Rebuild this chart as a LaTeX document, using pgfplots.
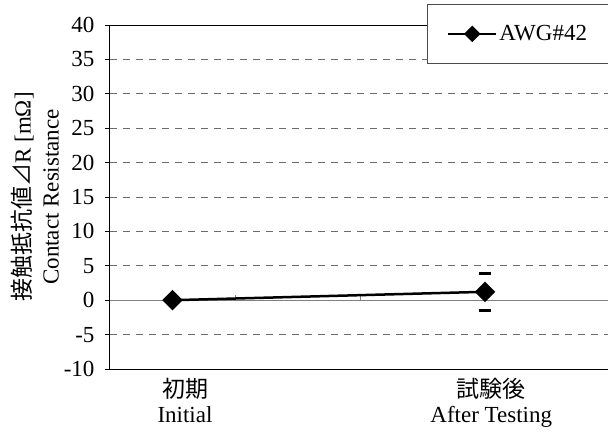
\documentclass[border=0pt]{standalone}
\usepackage{pgfplots}
\pgfplotsset{compat=1.18}
\usepackage{fontspec}
\setmainfont{Liberation Serif}
\newfontfamily\cjk{Noto Sans CJK JP}
\newcommand\chartfont{\fontsize{23}{25}\selectfont}
\begin{document}
\begin{tikzpicture}[x=1pt,y=1pt]
\useasboundingbox (0,0) rectangle (608,434);
\begin{axis}[
  at={(110pt,65pt)}, anchor=south west,
  scale only axis, width=502pt, height=344pt,
  xmin=0, xmax=4.016, ymin=-10, ymax=40,
  axis line style={black, line width=1pt},
  font=\chartfont,
  /pgf/number format/assume math mode=true,
  xtick={0.6,3.05},
  xticklabels={{{\cjk 初期}\\Initial},{{\cjk 試験後}\\After Testing}},
  xticklabel style={align=center, font=\chartfont, yshift=-1pt},
  x tick style={draw=none},
  xtick pos=lower,
  ytick pos=left,
  ytick={-5,5,10,15,20,25,30,35},
  extra y ticks={-10,0,40},
  extra y tick style={grid=none},
  ymajorgrids,
  major grid style={gray!85!black, line width=0.8pt, dash pattern=on 7pt off 6pt},
  y tick style={black, line width=0.8pt},
  tick align=outside, major tick length=5pt,
  yticklabel style={font=\chartfont, xshift=-7pt},
  every axis y label/.style={at={(axis description cs:0,0.5)}, xshift=-75pt, rotate=90, anchor=center, align=center, font=\chartfont},
  ylabel={{\cjk 接触抵抗値⊿}R [mΩ]\\[3pt]Contact Resistance},
  legend style={at={(axis description cs:1,1)}, anchor=north east, xshift=-3pt, yshift=21pt,
    draw=gray!60!black, line width=1pt, inner xsep=19.5pt, inner ysep=19pt, font=\chartfont},
  legend image code/.code={\draw[mark repeat=2,mark phase=2,#1,mark size=4.6pt] plot coordinates {(0pt,0pt)(24pt,0pt)(48pt,0pt)};},
]
\draw[gray, line width=0.8pt] (axis cs:0,0) -- (axis cs:4.016,0);
\draw[gray, line width=0.8pt] (axis cs:1,0) -- ++(0pt,5pt);
\draw[gray, line width=0.8pt] (axis cs:2,0) -- ++(0pt,5pt);
\draw[gray, line width=0.8pt] (axis cs:3,0) -- ++(0pt,5pt);
\addplot[black, line width=2.5pt, mark=square*, mark size=6pt, mark options={rotate=45, solid},
  error bars/.cd, y dir=both, y explicit,
  error bar style={draw opacity=0},
  error mark options={draw opacity=1, black, line width=3pt, mark size=6pt, rotate=90}]
  coordinates {(0.5,0) +- (0,0) (3,1.22) +- (0,2.66)};
\addlegendentry{AWG\#42}
\end{axis}
\end{tikzpicture}
\end{document}
